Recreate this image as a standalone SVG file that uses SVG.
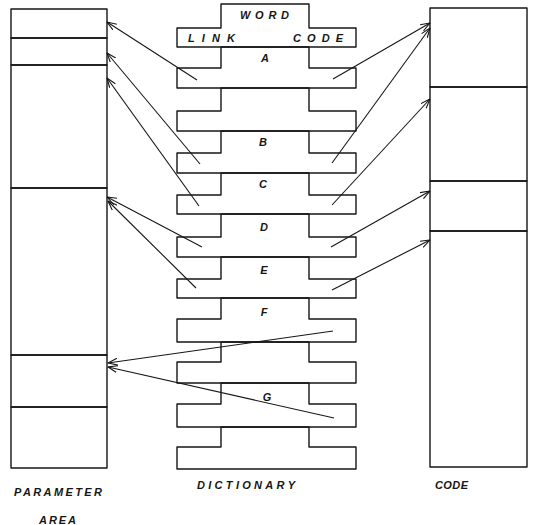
<svg xmlns="http://www.w3.org/2000/svg" width="540" height="525" viewBox="0 0 540 525">
<defs>
<style>
.box{fill:none;stroke:#161616;stroke-width:1.4;stroke-linejoin:round}
.cn{fill:none;stroke:#161616;stroke-width:1.1}
.t{font-family:"Liberation Sans",Arial,sans-serif;font-style:italic;font-weight:bold;font-size:11px;fill:#161616;text-anchor:middle}
.lt{font-family:"Liberation Sans",Arial,sans-serif;font-style:italic;font-weight:bold;font-size:11px;fill:#161616}
</style>
<marker id="ah" viewBox="0 0 10 8" refX="9.5" refY="4" markerWidth="10" markerHeight="8" markerUnits="userSpaceOnUse" orient="auto">
<path d="M0,0.5 L9.5,4 L0,7.5" fill="none" stroke="#161616" stroke-width="1.1"/>
</marker>
</defs>
<rect width="540" height="525" fill="#ffffff"/>

<g id="parameter-area">
<rect class="box" x="11" y="9" width="96" height="29"/>
<rect class="box" x="11" y="38" width="96" height="27"/>
<rect class="box" x="11" y="65" width="96" height="123"/>
<rect class="box" x="11" y="188" width="96" height="167"/>
<rect class="box" x="11" y="355" width="96" height="52"/>
<rect class="box" x="11" y="407" width="96" height="61"/>
<text class="lt" x="14" y="496" textLength="88" lengthAdjust="spacing">PARAMETER</text>
<text class="lt" x="39" y="524" textLength="37" lengthAdjust="spacing">AREA</text>
</g>

<g id="code-area">
<rect class="box" x="430" y="8" width="97" height="79"/>
<rect class="box" x="430" y="87" width="97" height="94"/>
<rect class="box" x="430" y="181" width="97" height="50"/>
<rect class="box" x="430" y="231" width="97" height="236"/>
<text class="lt" x="435" y="489" textLength="33" lengthAdjust="spacing">CODE</text>
</g>

<g id="dictionary">
<g id="word-header">
<path class="box" d="M221,28 V4 H309 V28 H356 V47 H177 V28 Z"/>
<text class="lt" x="240" y="19" textLength="49" lengthAdjust="spacing">WORD</text>
<text class="lt" x="188" y="42" textLength="47" lengthAdjust="spacing">LINK</text>
<text class="lt" x="293" y="42" textLength="50" lengthAdjust="spacing">CODE</text>
</g>
<g id="word-a">
<path class="box" d="M221,47 H309 V68 H356 V88 H177 V68 H221 Z"/>
<text class="t" x="265" y="62">A</text>
</g>
<g id="word-empty-1">
<path class="box" d="M221,88 H309 V111 H356 V131 H177 V111 H221 Z"/>
</g>
<g id="word-b">
<path class="box" d="M221,131 H309 V153 H356 V173 H177 V153 H221 Z"/>
<text class="t" x="263" y="146">B</text>
</g>
<g id="word-c">
<path class="box" d="M221,173 H309 V195 H356 V214 H177 V195 H221 Z"/>
<text class="t" x="263" y="188">C</text>
</g>
<g id="word-d">
<path class="box" d="M221,214 H309 V237 H356 V257 H177 V237 H221 Z"/>
<text class="t" x="264" y="231">D</text>
</g>
<g id="word-e">
<path class="box" d="M221,257 H309 V279 H356 V298 H177 V279 H221 Z"/>
<text class="t" x="264" y="274">E</text>
</g>
<g id="word-f">
<path class="box" d="M221,298 H309 V319 H356 V342 H177 V319 H221 Z"/>
<text class="t" x="264" y="316">F</text>
</g>
<g id="word-empty-2">
<path class="box" d="M221,342 H309 V362 H356 V383 H177 V362 H221 Z"/>
</g>
<g id="word-g">
<path class="box" d="M221,383 H309 V404 H356 V427 H177 V404 H221 Z"/>
<text class="t" x="267" y="401">G</text>
</g>
<g id="word-empty-3">
<path class="box" d="M221,427 H309 V447 H356 V469 H177 V447 H221 Z"/>
</g>
<text class="lt" x="197" y="489" textLength="98" lengthAdjust="spacing">DICTIONARY</text>
</g>

<g id="connectors">
<line class="cn" x1="197" y1="80" x2="107" y2="22" marker-end="url(#ah)"/>
<line class="cn" x1="200" y1="164" x2="107" y2="53" marker-end="url(#ah)"/>
<line class="cn" x1="199" y1="206" x2="107" y2="78" marker-end="url(#ah)"/>
<line class="cn" x1="202" y1="247" x2="107" y2="197" marker-end="url(#ah)"/>
<line class="cn" x1="196" y1="288" x2="108" y2="201" marker-end="url(#ah)"/>
<line class="cn" x1="333" y1="331" x2="108" y2="363" marker-end="url(#ah)"/>
<line class="cn" x1="334" y1="418" x2="108" y2="367" marker-end="url(#ah)"/>
<line class="cn" x1="333" y1="79" x2="430" y2="23" marker-end="url(#ah)"/>
<line class="cn" x1="332" y1="163" x2="430" y2="28" marker-end="url(#ah)"/>
<line class="cn" x1="332" y1="205" x2="430" y2="99" marker-end="url(#ah)"/>
<line class="cn" x1="331" y1="247" x2="430" y2="191" marker-end="url(#ah)"/>
<line class="cn" x1="332" y1="290" x2="430" y2="240" marker-end="url(#ah)"/>
</g>
</svg>
